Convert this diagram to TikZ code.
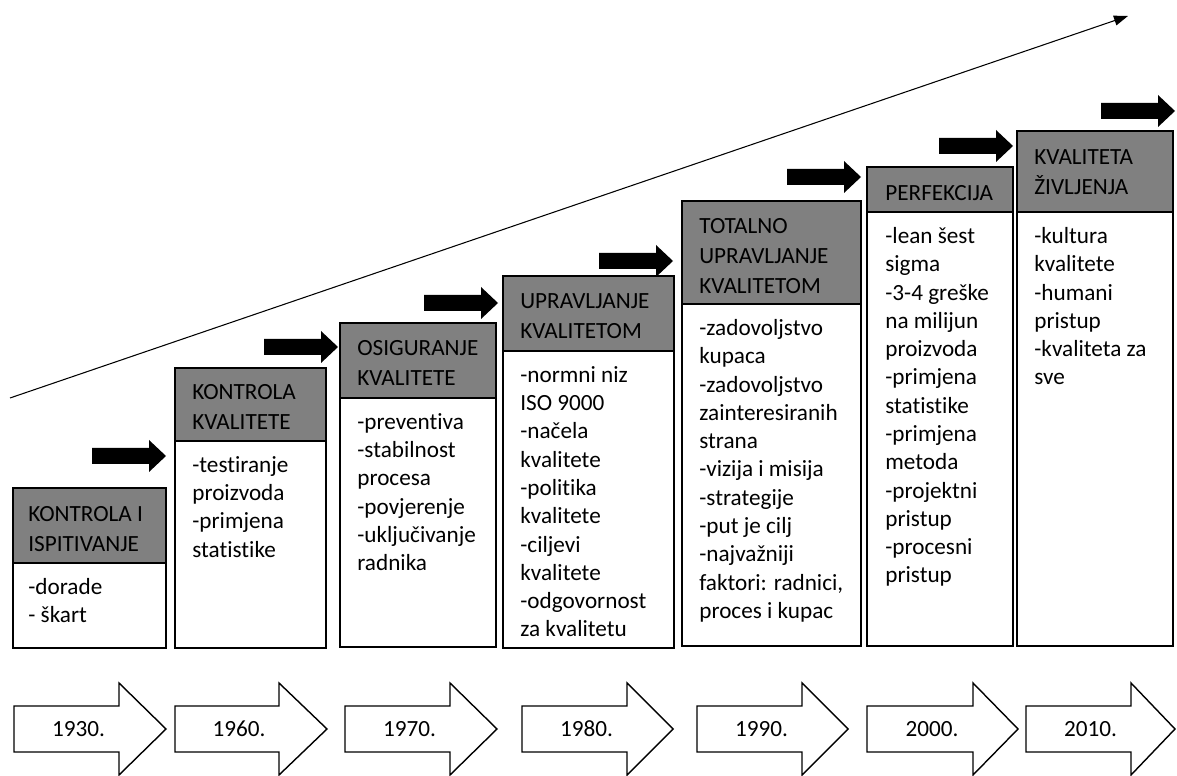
\documentclass[tikz,border=0pt]{standalone}
\usepackage{fontspec}
\setmainfont[Ligatures={NoCommon,NoContextual}]{Carlito}
\usetikzlibrary{arrows.meta}
\definecolor{headgray}{RGB}{128,128,128}

\begin{document}
\begin{tikzpicture}[x=0.02cm,y=-0.02cm,
  font=\fontsize{13.2}{16.1}\selectfont,
  box/.style={draw=black,line width=0.9pt},
  head/.style={box,fill=headgray},
  headtext/.style={anchor=west,align=left,inner sep=0pt,font=\fontsize{13.2}{17.1}\selectfont},
  bodytext/.style={anchor=north west,align=left,inner sep=0pt,execute at begin node=\strut},
  era/.style={draw=black,line width=0.8pt,fill=white}]

\useasboundingbox (0,0) rectangle (1177,776);

\def\arrowlen{74}
\def\headlen{17}

% rising trend line
\draw[line width=0.6pt,-{Triangle[length=0.28cm,width=0.2cm]}] (10,398) -- (1128,16);

% black step arrows
\foreach \tx/\ty in {166/456,338/347,498/303,673/261,861/177,1013/146,1175/111}
  \fill ({\tx-\arrowlen},{\ty-8}) -- ({\tx-\headlen},{\ty-8}) -- ({\tx-\headlen},{\ty-16})
    -- (\tx,\ty) -- ({\tx-\headlen},{\ty+16}) -- ({\tx-\headlen},{\ty+8}) -- ({\tx-\arrowlen},{\ty+8}) -- cycle;

% 1930.
\draw[head] (13,488) rectangle (166,563);
\node[headtext] (h1) at (28,529) {KONTROLA I\\ISPITIVANJE};
\draw[box] (13,563) rectangle (166,648);
\node[bodytext] (b1) at (28,578) {-dorade\\- škart};

% 1960.
\draw[head] (175,368) rectangle (326,441);
\node[headtext] (h2) at (192,407) {KONTROLA\\KVALITETE};
\draw[box] (175,441) rectangle (326,648);
\node[bodytext] (b2) at (192,456) {-testiranje\\proizvoda\\-primjena\\statistike};

% 1970.
\draw[head] (340,323) rectangle (496,398);
\node[headtext] (h3) at (357,363) {OSIGURANJE\\KVALITETE};
\draw[box] (340,398) rectangle (496,647);
\node[bodytext] (b3) at (357,413) {-preventiva\\-stabilnost\\procesa\\-povjerenje\\-uključivanje\\radnika};

% 1980.
\draw[head] (503,276) rectangle (674,351);
\node[headtext] (h4) at (520,316) {UPRAVLJANJE\\KVALITETOM};
\draw[box] (503,351) rectangle (674,648);
\node[bodytext] (b4) at (520,366) {-normni niz\\ISO 9000\\-načela\\kvalitete\\-politika\\kvalitete\\-ciljevi\\kvalitete\\-odgovornost\\za kvalitetu};

% 1990.
\draw[head] (682,201) rectangle (861,304);
\node[headtext] (h5) at (699,256) {TOTALNO\\UPRAVLJANJE\\KVALITETOM};
\draw[box] (682,304) rectangle (861,646);
\node[bodytext] (b5) at (699,319) {-zadovoljstvo\\kupaca\\-zadovoljstvo\\zainteresiranih\\strana\\-vizija i misija\\-strategije\\-put je cilj\\-najvažniji\\faktori: radnici,\\proces i kupac};

% 2000.
\draw[head] (867,167) rectangle (1013,212);
\node[headtext] (h6) at (885,193) {PERFEKCIJA};
\draw[box] (867,212) rectangle (1013,646);
\node[bodytext] (b6) at (885,227) {-lean šest\\sigma\\-3-4 greške\\na milijun\\proizvoda\\-primjena\\statistike\\-primjena\\metoda\\-projektni\\pristup\\-procesni\\pristup};

% 2010.
\draw[head] (1017,131) rectangle (1173,212);
\node[headtext] (h7) at (1034,172) {KVALITETA\\ŽIVLJENJA};
\draw[box] (1017,212) rectangle (1173,646);
\node[bodytext] (b7) at (1034,227) {-kultura\\kvalitete\\-humani\\pristup\\-kvaliteta za\\sve};

% timeline
\foreach \l/\b/\t/\yr [count=\i] in {14/119/166/1930.,175/279/327/1960.,345/450/497/1970.,522/627/673/1980.,697/802/848/1990.,867/973/1018/2000.,1026/1131/1175/2010.}
{
  \draw[era] (\l,706) -- (\b,706) -- (\b,683) -- (\t,729) -- (\b,775) -- (\b,752) -- (\l,752) -- cycle;
  \node (y\i) at ({(\l+\b)/2+12},729) {\yr};
}

\end{tikzpicture}
\end{document}
